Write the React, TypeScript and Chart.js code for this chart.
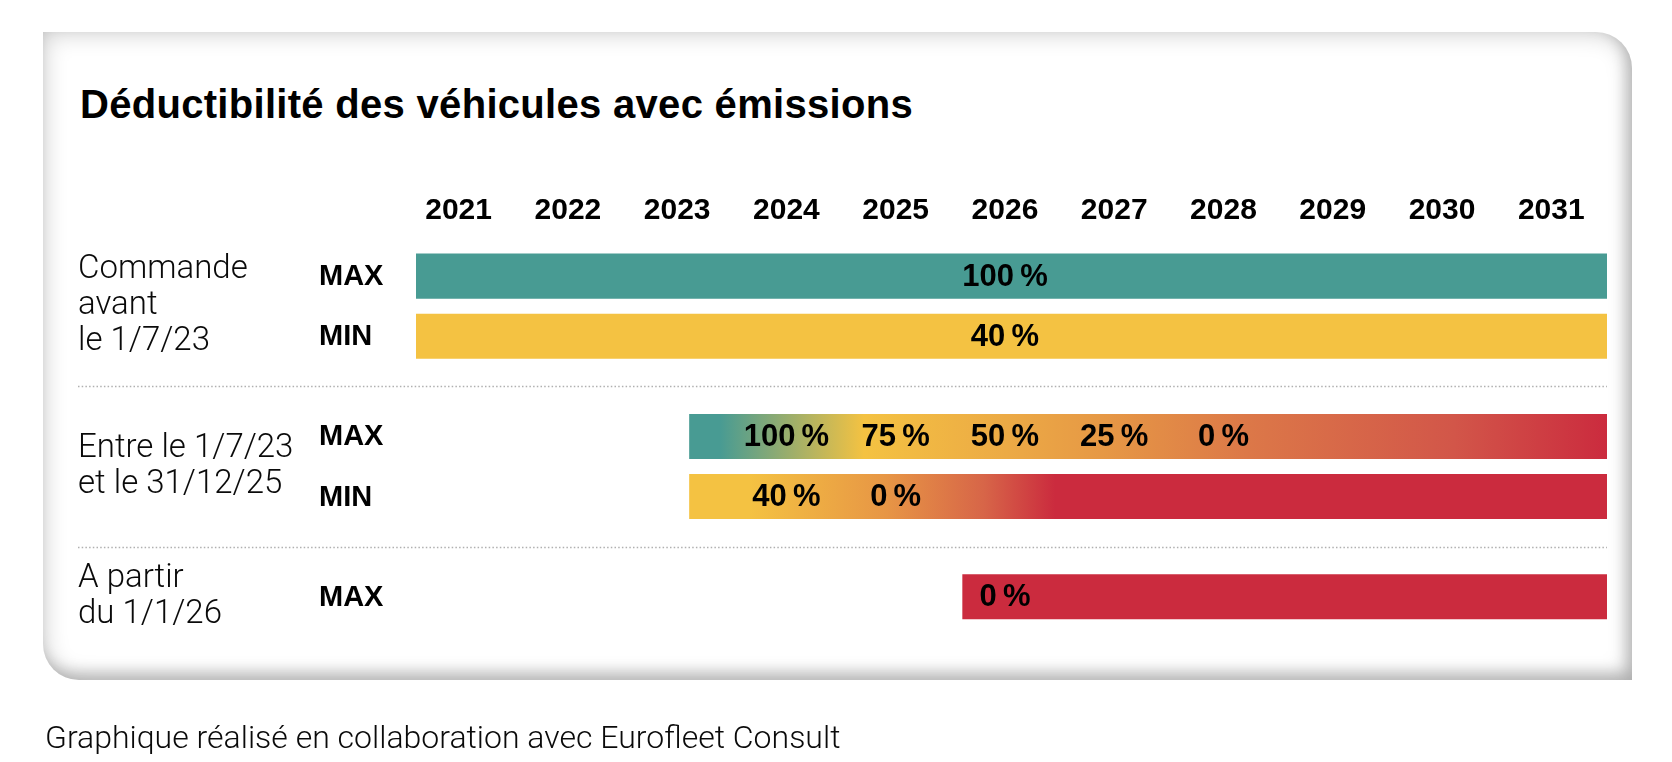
import React, { useEffect, useRef } from 'react';
import { Chart, registerables } from 'chart.js';

Chart.register(...registerables);

// ---------------- data ----------------
const TITLE = 'Déductibilité des véhicules avec émissions';
const CAPTION = 'Graphique réalisé en collaboration avec Eurofleet Consult';

const YEARS = [2021, 2022, 2023, 2024, 2025, 2026, 2027, 2028, 2029, 2030, 2031];
const GROUP_LABELS = [
  ['Commande', 'avant', 'le 1/7/23'],
  ['Entre le 1/7/23', 'et le 31/12/25'],
  ['A partir', 'du 1/1/26'],
];
const SERIES_LABELS = ['MAX', 'MIN'];
// floating bars: [start, end] in years
const MAX_SPANS = [[2021, 2032], [2023.5, 2032], [2026, 2032]];
const MIN_SPANS = [[2021, 2032], [2023.5, 2032], null];
// deductibility rates written in the bars, with the year they refer to
const MAX_RATE_YEARS = [[2026], [2024, 2025, 2026, 2027, 2028], [2026]];
const MAX_RATES = [[100], [100, 75, 50, 25, 0], [0]];
const MIN_RATE_YEARS = [[2026], [2024, 2025], []];
const MIN_RATES = [[40], [40, 0], []];
const X_MIN = 2021;
const X_MAX = 2031.9;

// ---------------- styles ----------------
const TEAL = '#489b93';
const YELLOW = '#f4c242';
const RED = '#cb2b3e';
const MAX_FILLS: [number, string][][] = [
  [[X_MIN, TEAL]],
  [[2023.78, TEAL], [2025.1, YELLOW], [2026.4, '#ecaa45'], [2027.3, '#e69845'], [2028.6, '#dc7848'], [2030.5, '#d25649'], [2031.9, RED]],
  [[2026, RED]],
];
const MIN_FILLS: [number, string][][] = [
  [[X_MIN, YELLOW]],
  [[2024.05, YELLOW], [2025.3, '#e79645'], [2026.2, '#d76548'], [2026.85, RED]],
  [],
];
const RATE_YEARS = [MAX_RATE_YEARS, MIN_RATE_YEARS];
const RATES = [MAX_RATES, MIN_RATES];

const BOLD = "'Liberation Sans', Arial, Helvetica, sans-serif";
const LIGHT = "Roboto, 'Liberation Sans', Arial, sans-serif";
const LABEL_SHIFT = 0.39; // year labels sit a bit inside each year
const ROW_LABEL_X = 78;
const SERIES_LABEL_X = 319;
const LINE_GAP = 36;

function barFill(stopsList: [number, string][][]) {
  return (c: any) => {
    const stops = stopsList[c.dataIndex];
    if (!stops || stops.length === 0) return 'rgba(0,0,0,0)';
    if (stops.length === 1) return stops[0][1];
    const x = c.chart.scales.x;
    if (!x || !c.chart.chartArea) return stops[0][1];
    const x0 = x.getPixelForValue(stops[0][0]);
    const x1 = x.getPixelForValue(stops[stops.length - 1][0]);
    const g = c.chart.ctx.createLinearGradient(x0, 0, x1, 0);
    stops.forEach(([v, col]) => {
      const t = (x.getPixelForValue(v) - x0) / (x1 - x0);
      g.addColorStop(Math.min(1, Math.max(0, t)), col);
    });
    return g;
  };
}

const annotate = {
  id: 'annotate',
  afterDatasetsDraw(chart: any) {
    const { ctx, chartArea, scales } = chart;
    const x = scales.x;
    const y = scales.y;
    ctx.save();
    // dotted separators between groups
    ctx.strokeStyle = '#b0b0b0';
    ctx.lineWidth = 1.5;
    ctx.setLineDash([1.5, 2.2]);
    for (let i = 1; i < GROUP_LABELS.length; i++) {
      const yy = Math.round((y.getPixelForValue(i - 1) + y.getPixelForValue(i)) / 2) + 0.5;
      ctx.beginPath();
      ctx.moveTo(ROW_LABEL_X, yy);
      ctx.lineTo(chartArea.right, yy);
      ctx.stroke();
    }
    ctx.setLineDash([]);

    // series names and rates
    chart.data.datasets.forEach((ds: any, d: number) => {
      const meta = chart.getDatasetMeta(d);
      meta.data.forEach((el: any, i: number) => {
        if (ds.data[i] == null) return;
        ctx.fillStyle = '#000';
        ctx.textBaseline = 'middle';
        ctx.font = `bold 29px ${BOLD}`;
        ctx.textAlign = 'left';
        ctx.fillText(ds.label, SERIES_LABEL_X, el.y + 1);
        ctx.font = `bold 31px ${BOLD}`;
        ctx.textAlign = 'center';
        RATE_YEARS[d][i].forEach((yr: number, k: number) => {
          ctx.fillText(`${RATES[d][i][k]}\u2009%`, x.getPixelForValue(yr + LABEL_SHIFT), el.y + 1);
        });
      });
    });

    // group labels
    ctx.font = `300 33px ${LIGHT}`;
    ctx.fillStyle = '#0a0a0a';
    ctx.textAlign = 'left';
    ctx.textBaseline = 'middle';
    GROUP_LABELS.forEach((lines, i) => {
      const ys: number[] = [];
      chart.data.datasets.forEach((ds: any, d: number) => {
        if (ds.data[i] != null) ys.push(chart.getDatasetMeta(d).data[i].y);
      });
      const yc = ys.reduce((a, b) => a + b, 0) / ys.length;
      lines.forEach((line, k) => {
        ctx.fillText(line, ROW_LABEL_X, yc + (k - (lines.length - 1) / 2) * LINE_GAP);
      });
    });
    ctx.restore();
  },
};

export default function App() {
  const ref = useRef<HTMLCanvasElement>(null);

  useEffect(() => {
    const canvas = ref.current;
    if (!canvas) return;
    const chart = new Chart(canvas, {
      type: 'bar',
      data: {
        labels: GROUP_LABELS.map((l) => l.join(' ')),
        datasets: [
          {
            label: SERIES_LABELS[0],
            data: MAX_SPANS as any,
            backgroundColor: barFill(MAX_FILLS) as any,
            borderWidth: 0,
            clip: 0 as any,
          },
          {
            label: SERIES_LABELS[1],
            data: MIN_SPANS as any,
            backgroundColor: barFill(MIN_FILLS) as any,
            borderWidth: 0,
            clip: 0 as any,
          },
        ],
      },
      options: {
        indexAxis: 'y',
        responsive: false,
        animation: false,
        events: [],
        categoryPercentage: 0.75,
        barPercentage: 0.75,
        layout: { padding: { left: 416, right: 65, top: 196, bottom: 55 } },
        plugins: {
          legend: { display: false },
          tooltip: { enabled: false },
        },
        scales: {
          x: {
            type: 'linear',
            position: 'top',
            min: X_MIN,
            max: X_MAX,
            grid: { display: false, drawTicks: false },
            border: { display: false },
            afterBuildTicks: (s: any) => {
              s.ticks = YEARS.map((v) => ({ value: v + LABEL_SHIFT }));
            },
            ticks: {
              autoSkip: false,
              maxRotation: 0,
              padding: 0,
              color: '#000',
              font: { family: BOLD, size: 30, weight: 'bold', lineHeight: 1 },
              callback: (_v: any, i: number) => String(YEARS[i]),
            },
          },
          y: {
            type: 'category',
            display: false,
            offset: true,
            grid: { display: false },
          },
        },
      } as any,
      plugins: [annotate],
    });
    return () => chart.destroy();
  }, []);

  return (
    <div
      style={{
        position: 'absolute',
        left: 0,
        top: 0,
        width: 1672,
        height: 762,
        background: '#fff',
        overflow: 'hidden',
      }}
    >
      <div
        style={{
          position: 'absolute',
          left: 43,
          top: 32,
          width: 1589,
          height: 648,
          background: '#fff',
          borderRadius: '0 36px 0 36px',
          boxShadow:
            'inset 0 0 24px rgba(0,0,0,0.22), inset -6px -8px 14px rgba(0,0,0,0.18)',
        }}
      />
      <div
        style={{
          position: 'absolute',
          left: 80,
          top: 84,
          font: `bold 40px ${BOLD}`,
          lineHeight: '40px',
          color: '#000',
          whiteSpace: 'nowrap',
          letterSpacing: '0.3px',
        }}
      >
        {TITLE}
      </div>
      <canvas
        ref={ref}
        width={1672}
        height={762}
        style={{ position: 'absolute', left: 0, top: 0, width: 1672, height: 762 }}
      />
      <div
        style={{
          position: 'absolute',
          left: 45,
          top: 721,
          font: `300 32px ${LIGHT}`,
          lineHeight: '32px',
          color: '#0a0a0a',
          whiteSpace: 'nowrap',
        }}
      >
        {CAPTION}
      </div>
    </div>
  );
}
